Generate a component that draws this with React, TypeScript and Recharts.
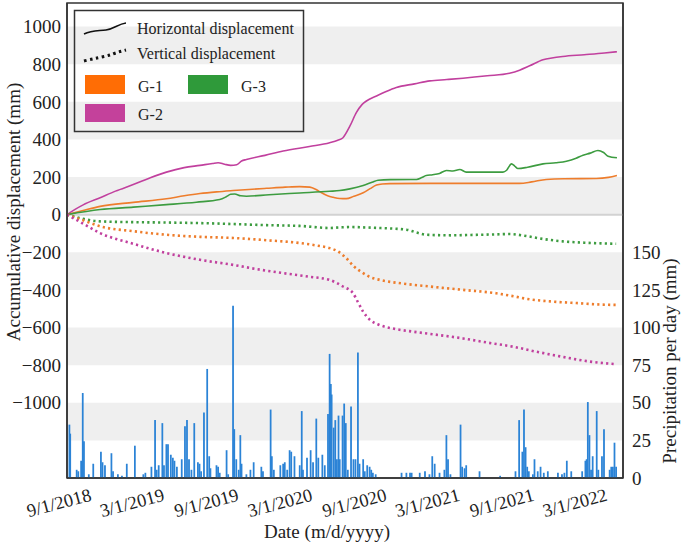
import React from 'react';
import { ComposedChart, Bar, Line, XAxis, YAxis, ReferenceArea, ReferenceLine } from 'recharts';

const FONT = "'Liberation Serif', 'Times New Roman', Times, serif";

// x values are days counted from 9/1/2018
const dateTicks = [0, 181, 365, 547, 731, 912, 1096, 1277];
const dateLabels = ['9/1/2018', '3/1/2019', '9/1/2019', '3/1/2020', '9/1/2020', '3/1/2021', '9/1/2021', '3/1/2022'];
const dispTicks = [-1000, -800, -600, -400, -200, 0, 200, 400, 600, 800, 1000];
const rainTicks = [0, 25, 50, 75, 100, 125, 150];
const grayBands = [[800, 1000], [400, 600], [0, 200], [-400, -200], [-800, -600], [-1200, -1000]];

// daily precipitation (mm): [day, mm]
const rain = [
  [6, 35], [8, 29], [24, 5], [28, 4], [35, 11], [39, 56], [42, 24], [54, 2], [65, 9], [84, 17], [88, 10],
  [94, 8], [110, 16], [114, 4], [126, 2], [136, 1], [148, 9], [168, 21], [189, 2], [194, 3], [209, 7],
  [218, 38], [222, 5], [227, 8], [236, 36], [240, 8], [246, 22], [250, 22], [257, 15], [262, 13], [266, 11],
  [272, 7], [284, 12], [292, 34], [297, 38], [302, 12], [308, 5], [315, 36], [324, 10], [328, 9], [332, 4],
  [339, 43], [347, 72], [352, 14], [355, 6], [370, 8], [374, 7], [378, 3], [395, 18], [399, 2], [411, 114],
  [414, 32], [419, 12], [425, 5], [429, 28], [432, 9], [444, 2], [454, 5], [462, 10], [481, 7], [485, 4],
  [504, 45], [507, 14], [512, 5], [528, 8], [535, 9], [539, 10], [545, 5], [551, 18], [555, 17], [563, 14],
  [576, 8], [581, 44], [584, 5], [594, 13], [603, 18], [609, 10], [617, 39], [622, 13], [632, 15], [638, 8],
  [646, 42], [650, 82], [653, 62], [655, 55], [660, 33], [664, 38], [668, 12], [672, 41], [675, 12], [682, 41],
  [686, 49], [688, 33], [690, 36], [695, 5], [703, 47], [709, 12], [714, 12], [720, 83], [724, 9], [733, 12],
  [737, 4], [743, 8], [749, 7], [753, 5], [757, 3], [764, 2], [828, 3], [840, 3], [849, 3], [853, 3], [873, 3],
  [886, 4], [897, 2], [904, 14], [910, 9], [922, 3], [934, 5], [939, 28], [943, 12], [949, 2], [974, 35],
  [978, 7], [984, 6], [988, 8], [1021, 4], [1072, 1], [1110, 4], [1119, 38], [1127, 17], [1131, 45], [1135, 20],
  [1139, 7], [1143, 4], [1153, 2], [1157, 12], [1165, 4], [1172, 7], [1180, 3], [1190, 4], [1215, 3], [1225, 2],
  [1231, 3], [1237, 11], [1248, 4], [1275, 4], [1283, 11], [1286, 12], [1289, 50], [1293, 28], [1297, 5],
  [1301, 14], [1311, 44], [1315, 5], [1324, 14], [1329, 32], [1343, 5], [1347, 7], [1351, 7], [1355, 23], [1359, 7],
];

// horizontal displacement (mm)
const hG1 = [
  [0, 0], [40, 22], [82, 44], [164, 65], [246, 84], [290, 100], [329, 112], [370, 121], [411, 128], [450, 134],
  [494, 140], [540, 146], [576, 149], [601, 146], [615, 135], [626, 121], [645, 100], [659, 92], [675, 86],
  [691, 85], [710, 98], [733, 116], [750, 138], [766, 157], [780, 163], [799, 165], [900, 166], [1000, 166],
  [1120, 166], [1150, 174], [1186, 187], [1230, 191], [1310, 192], [1340, 198], [1361, 208],
];
const hG2 = [
  [0, 0], [20, 28], [40, 52], [82, 90], [120, 125], [164, 160], [205, 195], [246, 226], [290, 250], [329, 262],
  [360, 272], [374, 276], [390, 268], [405, 262], [420, 265], [432, 285], [444, 293], [490, 315], [535, 338],
  [600, 362], [650, 382], [670, 395], [683, 409], [700, 470], [716, 542], [730, 585], [741, 604], [766, 631],
  [790, 655], [815, 676], [860, 695], [898, 711], [940, 718], [980, 725], [1040, 738], [1095, 752], [1120, 768],
  [1145, 791], [1178, 823], [1200, 833], [1227, 841], [1280, 850], [1330, 859], [1361, 866],
];
const hG3 = [
  [0, 0], [82, 27], [164, 40], [246, 53], [320, 66], [378, 80], [395, 96], [405, 108], [415, 110], [430, 100],
  [444, 98], [500, 106], [576, 115], [650, 124], [675, 128], [700, 137], [733, 155], [755, 172], [770, 183],
  [800, 186], [865, 187], [878, 197], [889, 208], [905, 212], [922, 219], [939, 235], [955, 232], [972, 240],
  [988, 226], [1040, 226], [1079, 226], [1088, 236], [1100, 270], [1108, 258], [1116, 245], [1140, 252],
  [1178, 270], [1210, 276], [1236, 284], [1260, 300], [1277, 316], [1295, 327], [1314, 341], [1328, 330],
  [1339, 311], [1361, 302],
];

// vertical displacement (mm)
const vG1 = [
  [0, 0], [40, -30], [82, -62], [164, -88], [246, -107], [329, -118], [411, -124], [494, -136], [576, -151],
  [620, -165], [650, -178], [670, -195], [691, -231], [710, -275], [733, -311], [750, -332], [774, -347],
  [830, -366], [898, -382], [980, -400], [1062, -418], [1100, -432], [1145, -450], [1200, -462], [1260, -470],
  [1320, -478], [1359, -480],
];
const vG2 = [
  [0, 0], [40, -48], [82, -98], [164, -155], [246, -204], [329, -240], [411, -267], [470, -290], [535, -311],
  [600, -330], [650, -347], [683, -382], [708, -418], [720, -465], [733, -516], [750, -560], [774, -587],
  [810, -607], [856, -622], [920, -640], [980, -658], [1040, -680], [1104, -702], [1160, -728], [1227, -756],
  [1290, -780], [1359, -795],
];
const vG3 = [
  [0, 0], [40, -22], [82, -36], [164, -40], [246, -42], [329, -45], [411, -50], [494, -56], [576, -60],
  [650, -71], [675, -68], [700, -66], [760, -70], [840, -80], [865, -95], [889, -107], [950, -110], [1000, -108],
  [1062, -105], [1095, -103], [1140, -115], [1180, -130], [1227, -142], [1290, -150], [1359, -155],
];

const COLORS = { g1: '#ee7d2c', g2: '#c1409e', g3: '#3d9c40' };

const toRows = (pts: number[][]) => pts.map(([day, v]) => ({ day, v }));

const series = [
  { id: 'hG2', data: hG2, color: COLORS.g2, dotted: false },
  { id: 'hG1', data: hG1, color: COLORS.g1, dotted: false },
  { id: 'hG3', data: hG3, color: COLORS.g3, dotted: false },
  { id: 'vG3', data: vG3, color: COLORS.g3, dotted: true },
  { id: 'vG1', data: vG1, color: COLORS.g1, dotted: true },
  { id: 'vG2', data: vG2, color: COLORS.g2, dotted: true },
];

const rainRows = rain.map(([day, mm]) => ({ day, mm }));

const minus = (v: number) => String(v).replace('-', '\u2212');

const txt = { fontFamily: FONT };

const DateTick = ({ x, y, payload }: any) => {
  const label = dateLabels[dateTicks.indexOf(payload.value)];
  const cx = x - 8;
  const cy = y + 23;
  return (
    <text x={cx} y={cy} transform={`rotate(-15, ${cx}, ${cy})`} textAnchor="middle" dominantBaseline="central"
      fontSize={18.5} fill="#222" style={txt}>
      {label}
    </text>
  );
};

const Legend = () => (
  <svg width={685} height={545} style={{ position: 'absolute', left: 0, top: 0, pointerEvents: 'none' }}>
    <rect x={74.5} y={10.5} width={229} height={121} fill="none" stroke="#333" strokeWidth={1.5} />
    <path d="M84,34 C92,30 98,31 106,30 C114,29 118,24 126,23" fill="none" stroke="#111" strokeWidth={1.5} />
    <text x={137} y={28} dominantBaseline="central" fontSize={16} fill="#222" style={txt}>Horizontal displacement</text>
    <path d="M84,61 C95,58 105,57 113,54 C118,52 122,51 126,50" fill="none" stroke="#111" strokeWidth={3}
      strokeDasharray="2.5 3.5" />
    <text x={137} y={53} dominantBaseline="central" fontSize={16} fill="#222" style={txt}>Vertical displacement</text>
    <rect x={85} y={75} width={40} height={19} fill="#ff6d05" />
    <text x={138} y={86} dominantBaseline="central" fontSize={16} fill="#222" style={txt}>G-1</text>
    <rect x={188} y={75} width={40} height={19} fill="#2f9a3a" />
    <text x={241} y={86} dominantBaseline="central" fontSize={16} fill="#222" style={txt}>G-3</text>
    <rect x={85} y={104} width={40} height={18} fill="#c4419b" />
    <text x={138} y={114} dominantBaseline="central" fontSize={16} fill="#222" style={txt}>G-2</text>
  </svg>
);

const tickStyle = { fontSize: 19, fill: '#222', style: txt };

export default function App() {
  return (
    <div style={{ position: 'absolute', left: 0, top: 0, width: 685, height: 545, background: '#fff', fontFamily: FONT }}>
      <ComposedChart width={685} height={545} data={rainRows} margin={{ top: 3, right: 0, bottom: 0, left: 0 }}
        style={txt}>
        {grayBands.map(([a, b]) => (
          <ReferenceArea key={a} yAxisId="left" y1={a} y2={b} fill="#efefef" fillOpacity={1} stroke="none" />
        ))}
        <ReferenceLine yAxisId="left" y={0} stroke="#d2d2d2" strokeWidth={2} />
        <XAxis dataKey="day" type="number" domain={[0, 1376]} ticks={dateTicks} interval={0} height={67}
          tick={<DateTick />} tickLine={false} tickSize={0} allowDataOverflow
          axisLine={{ stroke: '#333', strokeWidth: 1.5 }}
          label={() => (
            <text x={327} y={531} textAnchor="middle" dominantBaseline="central" fontSize={19} fill="#222" style={txt}>
              Date (m/d/yyyy)
            </text>
          )} />
        <YAxis yAxisId="left" domain={[-1400, 1125]} ticks={dispTicks} interval={0} width={67} allowDataOverflow
          tickLine={false} tickSize={0} tickMargin={6} tick={tickStyle} tickFormatter={minus}
          axisLine={{ stroke: '#333', strokeWidth: 1.5 }}
          label={() => (
            <text x={13} y={212} transform="rotate(-90, 13, 212)" textAnchor="middle" dominantBaseline="central"
              fontSize={19} fill="#222" style={txt}>
              Accumulative displacement (mm)
            </text>
          )} />
        <YAxis yAxisId="right" orientation="right" domain={[0, 315.625]} ticks={rainTicks} interval={0} width={62}
          allowDataOverflow tickLine={false} tickSize={0} tickMargin={9} tick={tickStyle}
          axisLine={{ stroke: '#333', strokeWidth: 1.5 }}
          label={() => (
            <text x={669} y={361} transform="rotate(-90, 669, 361)" textAnchor="middle" dominantBaseline="central"
              fontSize={19} fill="#222" style={txt}>
              Precipitation per day (mm)
            </text>
          )} />
        <Bar yAxisId="right" dataKey="mm" fill="#2b83d6" stroke="#2b83d6" strokeWidth={1.4} barSize={2}
          isAnimationActive={false} />
        {series.map((s) => (
          <Line key={s.id} yAxisId="left" data={toRows(s.data)} dataKey="v" type="monotone" stroke={s.color}
            strokeWidth={s.dotted ? 2.6 : 1.6} strokeDasharray={s.dotted ? '2.2 3.2' : undefined}
            dot={false} activeDot={false} isAnimationActive={false} />
        ))}
        <ReferenceArea yAxisId="left" y1={-1400} y2={1125} fill="none" stroke="#333" strokeWidth={1.5} />
      </ComposedChart>
      <Legend />
    </div>
  );
}
